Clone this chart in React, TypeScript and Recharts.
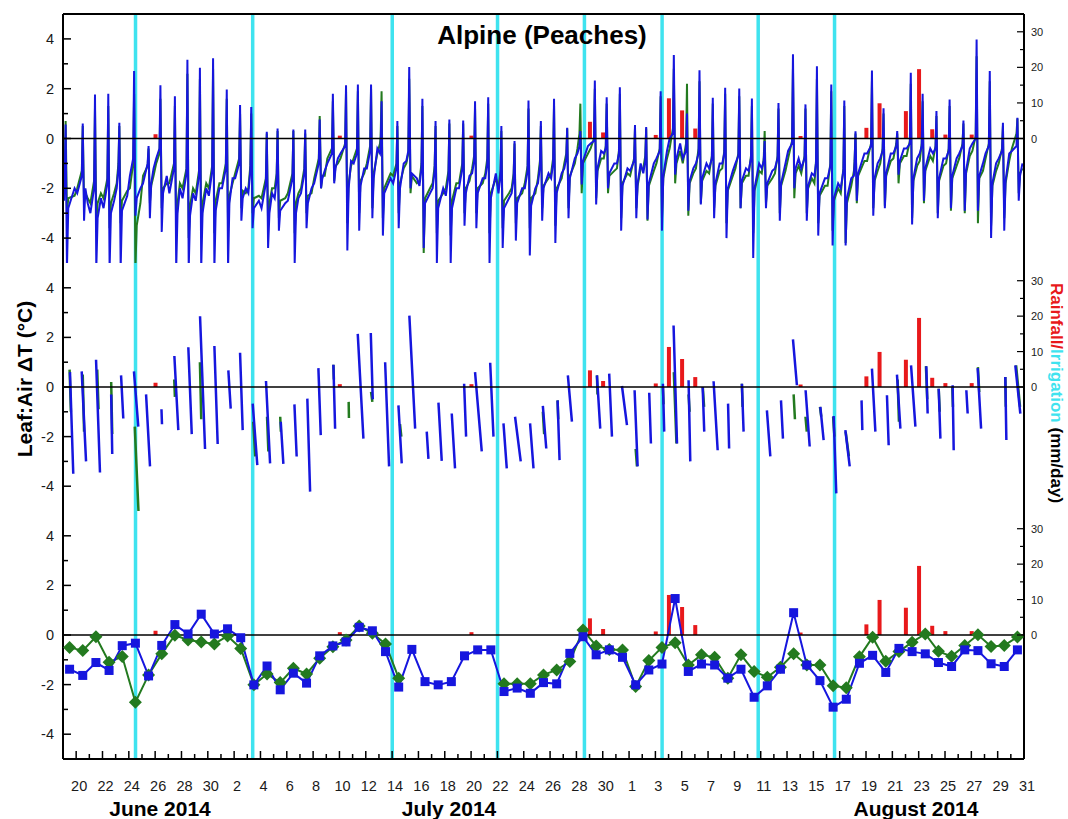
import React from "react";
import { ComposedChart, Line, Bar, XAxis, YAxis, ReferenceLine } from "recharts";

const FONT = '"Liberation Sans", Arial, Helvetica, sans-serif';
const BLUE = "#1616de";
const GREEN = "#237a1f";
const RED = "#e8191b";
const CYAN = "#3fe3ef";

// day index: June 1 = 1, July 1 = 31, Aug 1 = 62
const FIRST_DAY = 19; // June 19
const LAST_DAY = 92; // Aug 31
const LEFT_DOMAIN: [number, number] = [-5, 5];
const RIGHT_DOMAIN: [number, number] = [-35, 35];

const xTicks = Array.from({ length: LAST_DAY - FIRST_DAY + 1 }, (_, i) => FIRST_DAY + i);
const leftTicks = [-4, -3, -2, -1, 0, 1, 2, 3, 4];
const rightTicks = [0, 5, 10, 15, 20, 25, 30];

const irrigationDays = [24.5, 33.4, 44.0, 52.0, 58.6, 64.5, 71.8, 77.6];
const rainDays = [26, 40, 50, 59, 60, 64, 65, 66, 67, 75, 80, 81, 83, 84, 85, 86, 88];
const rainMm = [1.2, 0.8, 0.8, 4.7, 1.7, 1.0, 11.3, 7.9, 2.8, 0.7, 3.0, 9.9, 7.7, 19.5, 2.6, 1.1, 1.1];

// top panel: one diurnal swing per day (time of peak as fraction of day)
const peakAt = [
  0.2, 0.5, 0.43, 0.44, 0.28, 0.4, 0.5, 0.4, 0.5, 0.45,
  0.4, 0.4, 0.44, 0.45, 0.3, 0.48, 0.3, 0.5, 0.4, 0.5,
  0.5, 0.5, 0.4, 0.4, 0.2, 0.4, 0.3, 0.3, 0.3, 0.35,
  0.4, 0.3, 0.3, 0.3, 0.3, 0.36, 0.3, 0.3, 0.3, 0.3,
  0.4, 0.3, 0.3, 0.45, 0.3, 0.4, 0.4, 0.4, 0.35, 0.36,
  0.3, 0.37, 0.33, 0.3, 0.35, 0.45, 0.4, 0.27, 0.36, 0.35,
  0.2, 0.45, 0.33, 0.37, 0.4, 0.3, 0.35, 0.35, 0.4, 0.4,
  0.4, 0.4, 0.5,
];
const blueMorning = [
  -2.5, -2.2, -3.0, -2.8, -2.0, -1.5, -1.8, -0.8, -2.2, -2.4,
  -2.5, -2.3, -2.0, -1.6, -2.2, -2.8, -2.4, -2.5, -2.2, -1.8,
  -1.0, -0.6, -1.0, -1.2, -0.6, -1.8, -0.9, -1.9, -2.0, -2.3,
  -2.0, -1.4, -1.6, -2.2, -2.2, -2.0, -1.8, -1.6, -1.2, -0.6,
  -0.2, -0.6, -1.0, -1.3, -1.4, -0.8, 0.0, -0.8, -1.0, -1.2,
  -1.0, -1.0, -1.3, -1.2, -1.2, -0.5, -1.2, -1.5, -1.6, -2.0,
  -1.5, -0.6, -0.8, -0.6, -0.4, -0.6, -0.6, -0.8, -0.6, -0.2,
  -0.6, -0.8, -0.5,
];
const bluePre = [
  -1.6, -1.5, -2.0, -1.8, -1.2, -0.8, -1.0, -0.4, -1.2, -1.4,
  -1.5, -1.3, -1.2, -1.0, -1.3, -1.8, -1.6, -1.6, -1.4, -1.0,
  -0.6, -0.3, -0.6, -0.5, -0.3, -1.2, -0.5, -1.2, -1.3, -1.5,
  -1.2, -0.9, -1.0, -1.5, -1.6, -1.3, -1.1, -1.0, -0.8, -0.3,
  -0.1, -0.4, -0.6, -0.9, -0.9, -0.5, 0.2, -0.5, -0.6, -0.8,
  -0.6, -0.7, -0.8, -0.9, -0.8, -0.2, -0.8, -1.0, -1.1, -1.3,
  -1.0, -0.3, -0.5, -0.3, -0.2, -0.3, -0.4, -0.5, -0.3, 0.0,
  -0.3, -0.5, -0.3,
];
const bluePeak = [
  0.56, 0.6, 1.77, 1.8, 0.63, 2.71, -0.3, 2.14, 1.7, 3.16,
  2.84, 3.22, 1.97, 1.34, 1.26, 0.27, 0.4, 0.36, 0.36, 0.76,
  1.8, 2.14, 2.17, 2.17, 1.5, 0.7, 2.87, 1.6, 0.7, 0.76,
  0.72, 1.5, 1.66, 0.5, -0.1, 1.53, 0.7, 1.6, 0.43, 0.3,
  2.33, 1.66, 2.06, 0.54, 0.46, 1.9, 3.35, 1.0, 2.74, 1.64,
  2.04, 2.01, 1.61, -0.1, 1.43, 3.38, 1.37, 2.9, 2.17, 1.53,
  0.29, 2.73, 1.21, 0.3, 2.64, 1.8, 1.1, 1.57, 0.72, 3.98,
  2.71, 0.63, 0.83,
];
const blueTrough = [
  -5.2, -3.3, -5.2, -5.2, -5.2, -3.1, -3.2, -3.75, -5.2, -5.2,
  -5.2, -5.2, -5.2, -3.3, -3.6, -4.4, -3.7, -5.0, -3.6, -2.0,
  -1.8, -4.5, -3.7, -3.2, -3.9, -3.6, -2.0, -4.4, -5.0, -5.0,
  -3.5, -3.6, -5.0, -4.4, -4.1, -4.7, -3.3, -4.2, -3.2, -1.85,
  -2.65, -2.0, -3.7, -3.2, -3.25, -3.7, -1.45, -2.9, -2.65, -3.2,
  -4.0, -2.8, -4.8, -2.8, -3.3, -2.0, -3.3, -3.9, -4.3, -4.3,
  -2.5, -3.1, -2.8, -1.45, -3.45, -2.5, -3.2, -2.8, -2.9, -2.9,
  -4.0, -3.7, -2.5,
];
const bluePost = [
  -2.8, -2.0, -3.2, -3.0, -2.9, -2.4, -1.8, -2.2, -3.0, -3.1,
  -3.0, -2.9, -2.6, -2.4, -2.8, -3.0, -2.9, -3.0, -2.6, -1.6,
  -1.2, -2.0, -1.9, -1.6, -2.2, -2.0, -1.4, -2.6, -2.8, -2.8,
  -2.2, -2.2, -2.4, -2.8, -2.6, -2.7, -2.0, -2.2, -1.6, -0.9,
  -1.2, -1.4, -1.9, -1.8, -1.8, -1.5, -0.8, -1.7, -1.6, -1.8,
  -2.0, -1.7, -2.0, -1.8, -1.8, -1.2, -1.9, -2.2, -2.4, -2.4,
  -1.4, -1.6, -1.4, -0.9, -1.6, -1.2, -1.6, -1.5, -1.3, -1.5,
  -1.8, -1.7, -1.5,
];
const blueEvening = [
  -2.0, -2.6, -2.4, -2.5, -2.3, -2.0, -1.2, -1.5, -2.0, -2.2,
  -2.0, -2.0, -1.6, -2.0, -2.5, -2.2, -2.6, -2.4, -2.0, -1.3,
  -0.8, -0.9, -1.2, -0.4, -1.6, -1.0, -1.6, -2.2, -2.0, -2.0,
  -1.5, -1.6, -1.4, -2.4, -2.0, -2.0, -1.4, -1.4, -0.8, -0.3,
  -0.5, -1.0, -1.2, -1.0, -1.0, -0.5, -0.2, -1.2, -1.0, -1.0,
  -1.3, -1.2, -1.0, -1.3, -1.0, -0.8, -1.4, -1.6, -1.8, -1.6,
  -0.6, -1.0, -0.6, -0.4, -0.8, -0.4, -0.8, -0.8, -0.4, -1.0,
  -1.0, -0.6, -1.0,
];
const greenMorning = [
  -2.2, -2.0, -2.6, -2.4, -1.8, -2.0, -1.5, -1.0, -1.8, -2.0,
  -2.2, -2.0, -1.8, -1.4, -2.0, -2.4, -2.0, -2.2, -2.0, -1.6,
  -0.8, -0.8, -0.8, -1.0, -0.2, -1.5, -1.0, -1.7, -1.8, -2.0,
  -1.8, -1.2, -1.4, -2.0, -2.0, -1.8, -1.6, -1.4, -1.0, -0.4,
  -0.4, -0.8, -1.2, -1.5, -1.2, -1.0, -0.4, -1.0, -1.2, -1.4,
  -1.2, -1.2, -1.5, -1.4, -1.4, -0.8, -1.4, -1.8, -1.9, -2.2,
  -1.3, -0.9, -1.0, -0.8, -0.7, -0.9, -0.9, -1.0, -0.8, -0.5,
  -0.8, -1.0, -0.4,
];
const greenPre = [
  -1.4, -1.3, -1.7, -1.6, -1.0, -1.0, -1.1, -0.6, -1.0, -1.2,
  -1.3, -1.1, -1.0, -0.8, -1.1, -1.6, -1.4, -1.4, -1.2, -0.8,
  -0.4, -0.2, -0.4, -0.3, 0.1, -1.0, -0.6, -1.0, -1.1, -1.3,
  -1.0, -0.7, -0.8, -1.3, -1.4, -1.1, -0.9, -0.8, -0.6, 0.2,
  0.0, -0.3, -0.5, -0.8, -0.7, -0.4, 0.4, -0.2, -0.4, -0.7,
  -0.5, -0.6, -0.7, -0.8, -0.7, -0.1, -0.7, -0.9, -1.0, -1.2,
  -0.9, -0.2, -0.4, -0.2, -0.1, -0.2, -0.3, -0.4, -0.2, 0.1,
  -0.2, -0.4, 0.2,
];
const greenPeak = [
  0.7, 0.5, 1.2, 1.3, 0.5, 1.8, -0.4, 1.6, 1.3, 2.6,
  2.4, 2.8, 1.6, 1.0, 1.0, 0.2, 0.3, 0.3, 0.2, 0.9,
  1.5, 1.9, 1.9, 2.0, 1.9, 0.5, 2.4, 1.3, 0.5, 0.6,
  0.6, 1.2, 1.4, 0.3, -0.2, 1.2, 0.5, 1.3, 0.4, 1.4,
  2.0, 1.4, 1.8, 0.4, 0.4, 1.7, 2.8, 2.2, 2.3, 1.4,
  1.8, 1.7, 1.3, 0.3, 1.2, 2.8, 1.2, 2.4, 1.9, 1.3,
  0.2, 2.3, 1.0, 0.2, 2.2, 1.5, 0.9, 1.3, 0.6, 3.3,
  2.3, 0.5, 0.8,
];
const greenTrough = [
  -3.0, -2.6, -3.4, -3.6, -3.4, -5.2, -2.6, -2.8, -3.8, -4.0,
  -4.0, -3.8, -3.6, -2.8, -3.0, -3.4, -3.2, -3.8, -3.0, -2.0,
  -1.7, -3.4, -3.0, -2.8, -3.2, -3.0, -2.2, -4.6, -3.8, -3.9,
  -3.0, -3.0, -3.8, -3.6, -3.4, -3.6, -2.8, -3.5, -2.8, -2.2,
  -2.4, -2.2, -3.2, -2.8, -3.3, -3.2, -1.8, -3.1, -2.6, -2.8,
  -3.4, -2.8, -3.8, -2.6, -3.0, -2.4, -3.0, -3.4, -3.7, -4.2,
  -2.6, -2.8, -2.7, -1.8, -3.2, -2.6, -3.0, -2.9, -3.0, -3.4,
  -3.5, -3.2, -2.2,
];
const greenPost = [
  -2.4, -2.2, -2.6, -2.6, -2.5, -3.5, -1.9, -2.0, -2.6, -2.7,
  -2.6, -2.5, -2.3, -2.1, -2.4, -2.6, -2.5, -2.6, -2.3, -1.5,
  -1.1, -1.8, -1.7, -1.4, -2.0, -1.8, -1.5, -2.4, -2.5, -2.5,
  -2.0, -2.0, -2.2, -2.5, -2.4, -2.4, -1.9, -2.0, -1.5, -1.0,
  -1.3, -1.5, -1.8, -1.9, -1.9, -1.6, -1.0, -1.8, -1.7, -1.9,
  -2.1, -1.8, -2.1, -1.9, -1.9, -1.4, -2.0, -2.3, -2.5, -2.6,
  -1.5, -1.7, -1.5, -1.0, -1.7, -1.3, -1.7, -1.6, -1.4, -1.6,
  -1.9, -1.8, -1.4,
];
const greenEvening = [
  -2.3, -2.4, -2.2, -2.2, -2.1, -2.6, -1.5, -1.8, -1.8, -2.0,
  -1.8, -1.8, -1.8, -2.2, -2.3, -2.0, -2.4, -2.2, -2.2, -1.5,
  -1.0, -1.1, -1.4, -0.6, -1.4, -1.2, -1.8, -2.0, -2.2, -1.8,
  -1.7, -1.8, -1.6, -2.2, -2.2, -2.2, -1.6, -1.6, -1.0, -0.6,
  -0.8, -1.3, -1.4, -1.2, -1.3, -0.8, -0.5, -1.4, -1.3, -1.3,
  -1.5, -1.5, -1.3, -1.6, -1.3, -1.1, -1.6, -1.9, -2.0, -1.9,
  -0.9, -1.3, -0.9, -0.7, -1.1, -0.7, -1.1, -1.1, -0.7, -1.3,
  -1.3, -0.9, -1.2,
];

// middle panel: filtered segments [start day, end day, start value, end value]
const midBlueSegments = [
  [19.53, 19.78, 0.6, -3.5], [20.42, 20.75, 0.63, -3.0], [21.51, 21.81, 1.1, -3.45],
  [22.66, 22.74, -0.3, -2.7], [23.41, 23.58, 0.47, -1.27], [24.39, 24.72, 0.63, -1.6],
  [25.31, 25.61, -0.3, -3.2], [26.48, 26.52, -0.9, -1.5], [27.46, 27.76, 1.25, -1.74],
  [28.52, 28.78, 1.6, -1.9], [29.41, 29.79, 2.85, -2.5], [30.5, 30.75, 1.65, -2.3],
  [31.56, 31.74, 0.67, -0.87], [32.45, 32.65, 1.38, -1.74], [33.41, 33.76, -0.67, -3.15],
  [34.42, 34.73, 0.24, -3.08], [35.54, 35.74, -1.4, -3.1], [36.58, 36.75, -0.7, -2.8],
  [37.56, 37.77, -0.47, -4.22], [38.4, 38.58, 0.76, -1.94], [39.54, 39.67, 0.9, -1.68],
  [41.39, 41.82, 2.14, -2.08], [42.38, 42.53, 2.18, -0.5], [43.47, 43.77, 1.0, -3.2],
  [44.48, 44.73, -0.74, -3.08], [45.31, 45.75, 2.88, -1.68], [46.63, 46.76, -1.8, -2.9],
  [47.52, 47.77, -0.63, -2.98], [48.53, 48.78, -1.07, -3.28], [49.47, 49.62, 0.13, -2.0],
  [50.3, 50.81, 0.6, -2.6], [51.45, 51.7, 0.98, -2.0], [52.46, 52.71, -1.47, -3.28],
  [53.34, 53.77, -1.2, -3.0], [54.48, 54.74, -1.47, -3.28], [55.45, 55.71, -0.76, -2.48],
  [56.57, 56.72, -0.54, -2.95], [57.35, 57.66, 0.47, -1.4], [59.56, 59.81, 0.47, -1.68],
  [60.49, 60.7, 0.54, -2.0], [61.46, 61.84, 0.04, -1.54], [62.42, 62.65, -0.13, -3.2],
  [63.53, 63.66, -0.23, -2.28], [64.57, 64.67, 0.13, -1.8], [65.38, 65.64, 2.48, -2.28],
  [66.52, 66.65, 0.27, -3.0], [67.59, 67.71, 0.0, -1.8], [68.42, 68.73, 0.23, -2.55],
  [69.52, 69.6, -0.67, -2.48], [70.57, 70.7, 0.13, -1.8], [72.47, 72.73, -0.94, -2.8],
  [73.54, 73.69, -0.54, -2.08], [74.45, 74.75, 1.92, 0.07], [75.41, 75.72, -0.13, -2.4],
  [76.53, 76.78, -0.8, -2.14], [77.54, 77.74, -1.17, -4.29], [78.43, 78.76, -1.74, -3.2],
  [79.66, 79.72, -0.54, -1.74], [80.45, 80.71, 0.74, -1.8], [81.59, 81.72, -0.33, -2.35],
  [82.35, 82.61, 0.5, -1.68], [83.42, 83.75, 0.87, -1.6], [84.58, 84.68, 0.84, -1.07],
  [85.52, 85.65, -0.07, -2.08], [86.58, 86.66, 0.07, -2.55], [87.62, 87.72, -0.13, -1.07],
  [88.48, 88.74, 0.76, -1.68], [90.58, 90.66, 0.4, -2.14], [91.34, 91.72, 0.87, -1.07],
];
const midGreenSegments = [
  [19.5, 19.6, 0.7, -1.0], [20.5, 20.6, 0.5, -1.8], [21.6, 21.7, 0.7, -0.9],
  [22.66, 22.74, 0.2, -1.9], [24.45, 24.75, -1.6, -5.2], [27.45, 27.5, 0.3, -0.4],
  [29.4, 29.5, 1.0, -1.3], [33.45, 33.6, -1.4, -2.8], [34.5, 34.6, -1.2, -2.6],
  [35.5, 35.55, -1.2, -1.8], [39.54, 39.58, 0.9, 0.3], [40.7, 40.72, -0.6, -1.25],
  [42.4, 42.5, -0.2, -0.6], [44.6, 44.7, -1.5, -2.0], [55.45, 55.55, -1.0, -1.9],
  [56.57, 56.62, -0.54, -1.3], [59.56, 59.6, 0.47, -0.3], [62.5, 62.6, -2.5, -3.2],
  [64.57, 64.62, 0.0, -0.7], [65.4, 65.6, 0.6, -2.28], [66.52, 66.6, -0.3, -1.0],
  [67.6, 67.7, 0.0, -0.8], [70.57, 70.62, 0.13, -0.8], [74.5, 74.6, -0.3, -1.3],
  [75.4, 75.5, -1.2, -1.8], [76.5, 76.6, -0.8, -1.2], [77.5, 77.6, -1.2, -2.0],
  [78.45, 78.7, -1.8, -2.8], [82.4, 82.5, 0.3, -1.4], [84.55, 84.65, 0.84, -0.5],
  [85.52, 85.6, -0.07, -1.0], [86.55, 86.6, 0.0, -0.8], [88.5, 88.6, 0.8, -0.2],
  [90.58, 90.62, 0.4, -0.8], [91.4, 91.7, 0.87, -0.8],
];

// bottom panel: daily means, June 19 .. Aug 30 (plotted at noon)
const blueMean = [
  -1.38, -1.63, -1.11, -1.43, -0.43, -0.33, -1.65, -0.42, 0.42, 0.04,
  0.84, 0.04, 0.25, -0.11, -2.01, -1.25, -2.21, -1.54, -1.94, -0.84,
  -0.44, -0.28, 0.31, 0.17, -0.67, -2.1, -0.58, -1.88, -2.01, -1.88,
  -0.84, -0.6, -0.6, -2.28, -2.14, -2.35, -1.92, -1.97, -0.74, -0.07,
  -0.8, -0.6, -0.9, -2.01, -1.41, -1.17, 1.47, -1.47, -1.17, -1.21,
  -1.74, -1.38, -2.51, -2.05, -1.38, 0.9, -1.21, -1.84, -2.91, -2.59,
  -1.14, -0.82, -1.51, -0.54, -0.67, -0.76, -1.11, -1.27, -0.6, -0.63,
  -1.16, -1.27, -0.6,
];
const greenMean = [
  -0.5, -0.63, -0.07, -1.1, -0.87, -2.71, -1.61, -0.76, -0.01, -0.2,
  -0.28, -0.36, -0.04, -0.54, -2.01, -1.57, -1.92, -1.34, -1.57, -0.94,
  -0.47, -0.2, 0.36, 0.07, -0.36, -1.74, null, null, null, null,
  null, null, null, -1.97, -1.97, -1.97, -1.61, -1.41, -1.07, 0.2,
  -0.44, -0.58, -0.6, -2.08, -1.03, -0.5, -0.31, -1.21, -0.8, -0.9,
  -1.74, -0.8, -1.47, -1.7, -1.3, -0.76, -1.21, -1.21, -2.05, -2.13,
  -0.88, -0.09, -1.06, -0.67, -0.29, 0.04, -0.66, -0.86, -0.42, 0.01,
  -0.46, -0.42, -0.08,
];

// rain bars + irrigation marks (irrigation drawn over the full height, as in the original)
const barRows = [
  ...rainDays.map((x, i) => ({ x, rain: rainMm[i] as number | undefined, irr: undefined as number[] | undefined })),
  ...irrigationDays.map((x) => ({ x, rain: undefined, irr: RIGHT_DOMAIN.slice() })),
].sort((a, b) => a.x - b.x);

function diurnal(
  morning: number[],
  pre: number[],
  peak: number[],
  trough: number[],
  post: number[],
  evening: number[]
) {
  const pts: { x: number; v: number }[] = [];
  peak.forEach((p, i) => {
    const d = FIRST_DAY + i;
    pts.push({ x: d + 0.08, v: morning[i] });
    pts.push({ x: d + peakAt[i] - 0.07, v: pre[i] });
    pts.push({ x: d + peakAt[i], v: p });
    pts.push({ x: d + peakAt[i] + 0.1, v: trough[i] });
    pts.push({ x: d + peakAt[i] + 0.2, v: post[i] });
    pts.push({ x: d + 0.88, v: evening[i] });
  });
  return pts;
}

function segmentRows(list: number[][]) {
  const pts: { x: number; v: number | null }[] = [];
  list.forEach(([t0, t1, v0, v1]) => {
    pts.push({ x: t0, v: v0 }, { x: t1, v: v1 }, { x: t1 + 0.02, v: null });
  });
  return pts;
}

const topBlue = diurnal(blueMorning, bluePre, bluePeak, blueTrough, bluePost, blueEvening);
const topGreen = diurnal(greenMorning, greenPre, greenPeak, greenTrough, greenPost, greenEvening);
const midBlue = segmentRows(midBlueSegments);
const midGreen = segmentRows(midGreenSegments);
const meanBlueRows = blueMean.map((v, i) => ({ x: FIRST_DAY + i + 0.5, v }));
const meanGreenRows = greenMean.map((v, i) => ({ x: FIRST_DAY + i + 0.5, v }));

const dayOfMonth = (d: number) => (d <= 30 ? d : d <= 61 ? d - 30 : d - 61);

const leftTick = (props: any) => {
  const { x, y, payload } = props;
  const v = payload.value as number;
  const major = v % 2 === 0;
  return (
    <g>
      <line x1={x} y1={y} x2={x + (major ? 8 : 5)} y2={y} stroke="#000" strokeWidth={1.5} />
      {major && (
        <text x={x - 9} y={y + 5} textAnchor="end" fontSize={14.5} fontFamily={FONT} fill="#1a1a1a">
          {v}
        </text>
      )}
    </g>
  );
};

const rightTick = (props: any) => {
  const { x, y, payload } = props;
  const v = payload.value as number;
  const major = v % 10 === 0;
  return (
    <g>
      <line x1={x} y1={y} x2={x - (major ? 7 : 4)} y2={y} stroke="#000" strokeWidth={1.2} />
      {major && (
        <text x={x + 7} y={y + 4} textAnchor="start" fontSize={11} fontFamily={FONT} fill="#1a1a1a">
          {v}
        </text>
      )}
    </g>
  );
};

const xTick = (labels: boolean) => (props: any) => {
  const { x, y, payload } = props;
  const d = payload.value as number;
  const major = d % 2 === 0;
  return (
    <g>
      <line x1={x} y1={y} x2={x} y2={y - (major ? 8 : 5)} stroke="#000" strokeWidth={1.5} />
      {labels && major && (
        <text x={x + 3} y={y + 32} textAnchor="middle" fontSize={14.5} fontFamily={FONT} fill="#1a1a1a">
          {dayOfMonth(d)}
        </text>
      )}
    </g>
  );
};

const squareDot = (p: any) => {
  if (p.cx == null || p.cy == null || p.value == null) return <g key={p.key} />;
  return <rect key={p.key} x={p.cx - 4.5} y={p.cy - 4.5} width={9} height={9} fill={BLUE} />;
};

const diamondDot = (p: any) => {
  if (p.cx == null || p.cy == null || p.value == null) return <g key={p.key} />;
  const { cx, cy } = p;
  return (
    <path
      key={p.key}
      d={`M${cx} ${cy - 6.5}L${cx + 6.5} ${cy}L${cx} ${cy + 6.5}L${cx - 6.5} ${cy}Z`}
      fill={GREEN}
    />
  );
};

const axisStroke = { stroke: "#000", strokeWidth: 2 };

function Panel(props: {
  top: number;
  height: number;
  margin: { top: number; bottom: number };
  axisHeight: number;
  labels: boolean;
  frameTop: boolean;
  children: React.ReactNode;
}) {
  const { top, height, margin, axisHeight, labels, frameTop, children } = props;
  return (
    <div style={{ position: "absolute", left: 0, top }}>
      <ComposedChart
        width={1068}
        height={height}
        data={barRows}
        margin={{ top: margin.top, right: 0, bottom: margin.bottom, left: 0 }}
      >
        <XAxis
          type="number"
          dataKey="x"
          domain={[FIRST_DAY, LAST_DAY]}
          allowDataOverflow
          ticks={xTicks}
          interval={0}
          tick={xTick(labels)}
          tickLine={false}
          tickSize={0}
          tickMargin={0}
          height={axisHeight}
          axisLine={axisStroke}
        />
        {/* own x axes so the dense series and the irrigation marks don't change rain bar placement */}
        <XAxis xAxisId="t" type="number" dataKey="x" domain={[FIRST_DAY, LAST_DAY]} allowDataOverflow hide />
        <XAxis xAxisId="i" type="number" dataKey="x" domain={[FIRST_DAY, LAST_DAY]} allowDataOverflow hide />
        <YAxis
          yAxisId="l"
          type="number"
          domain={LEFT_DOMAIN}
          allowDataOverflow
          ticks={leftTicks}
          interval={0}
          width={63}
          tick={leftTick}
          tickLine={false}
          tickSize={0}
          tickMargin={0}
          axisLine={axisStroke}
        />
        <YAxis
          yAxisId="r"
          orientation="right"
          type="number"
          domain={RIGHT_DOMAIN}
          allowDataOverflow
          ticks={rightTicks}
          interval={0}
          width={44}
          tick={rightTick}
          tickLine={false}
          tickSize={0}
          tickMargin={0}
          axisLine={axisStroke}
        />
        <Bar xAxisId="i" yAxisId="r" dataKey="irr" fill={CYAN} barSize={3.5} isAnimationActive={false} />
        <Bar yAxisId="r" dataKey="rain" fill={RED} barSize={4} isAnimationActive={false} />
        {children}
        <ReferenceLine yAxisId="l" y={0} stroke="#000" strokeWidth={1.5} />
        {frameTop && <ReferenceLine yAxisId="l" y={LEFT_DOMAIN[1]} stroke="#000" strokeWidth={2} />}
      </ComposedChart>
    </div>
  );
}

export default function App() {
  return (
    <div
      style={{
        position: "absolute",
        left: 0,
        top: 0,
        width: 1068,
        height: 819,
        background: "#fff",
        fontFamily: FONT,
        overflow: "hidden",
      }}
    >
      <Panel top={4} height={264} margin={{ top: 10, bottom: 5 }} axisHeight={0} labels={false} frameTop>
        <Line xAxisId="t" yAxisId="l" data={topGreen} dataKey="v" stroke={GREEN} strokeWidth={2} dot={false} isAnimationActive={false} />
        <Line xAxisId="t" yAxisId="l" data={topBlue} dataKey="v" stroke={BLUE} strokeWidth={2} dot={false} isAnimationActive={false} />
      </Panel>
      <Panel top={258} height={258} margin={{ top: 5, bottom: 5 }} axisHeight={0} labels={false} frameTop={false}>
        <Line xAxisId="t" yAxisId="l" data={midGreen} dataKey="v" stroke={GREEN} strokeWidth={2.5} dot={false} isAnimationActive={false} />
        <Line xAxisId="t" yAxisId="l" data={midBlue} dataKey="v" stroke={BLUE} strokeWidth={2.5} dot={false} isAnimationActive={false} />
      </Panel>
      <Panel top={506} height={313} margin={{ top: 5, bottom: 0 }} axisHeight={60} labels frameTop={false}>
        <Line xAxisId="t" yAxisId="l" data={meanGreenRows} dataKey="v" stroke={GREEN} strokeWidth={2} dot={diamondDot} isAnimationActive={false} />
        <Line xAxisId="t" yAxisId="l" data={meanBlueRows} dataKey="v" stroke={BLUE} strokeWidth={2} dot={squareDot} isAnimationActive={false} />
      </Panel>

      <div
        style={{
          position: "absolute",
          left: 542,
          top: 22,
          transform: "translateX(-50%)",
          fontSize: 26,
          fontWeight: "bold",
          lineHeight: 1,
          whiteSpace: "nowrap",
          color: "#000",
        }}
      >
        Alpine (Peaches)
      </div>

      {[
        { text: "June 2014", x: 160 },
        { text: "July 2014", x: 449 },
        { text: "August 2014", x: 916 },
      ].map((m) => (
        <div
          key={m.text}
          style={{
            position: "absolute",
            left: m.x,
            top: 798,
            transform: "translateX(-50%)",
            fontSize: 21,
            fontWeight: "bold",
            lineHeight: 1,
            whiteSpace: "nowrap",
            color: "#000",
          }}
        >
          {m.text}
        </div>
      ))}

      <div
        style={{
          position: "absolute",
          left: 24,
          top: 379,
          transform: "translate(-50%, -50%) rotate(-90deg)",
          fontSize: 21,
          fontWeight: "bold",
          lineHeight: 1,
          whiteSpace: "nowrap",
          color: "#000",
        }}
      >
        Leaf:Air ΔT (°C)
      </div>

      <div
        style={{
          position: "absolute",
          left: 1056,
          top: 393,
          transform: "translate(-50%, -50%) rotate(90deg)",
          fontSize: 17,
          fontWeight: "bold",
          lineHeight: 1,
          whiteSpace: "nowrap",
          color: "#000",
        }}
      >
        <span style={{ color: RED }}>Rainfall/</span>
        <span style={{ color: CYAN }}>Irrigation</span>
        <span> (mm/day)</span>
      </div>
    </div>
  );
}
